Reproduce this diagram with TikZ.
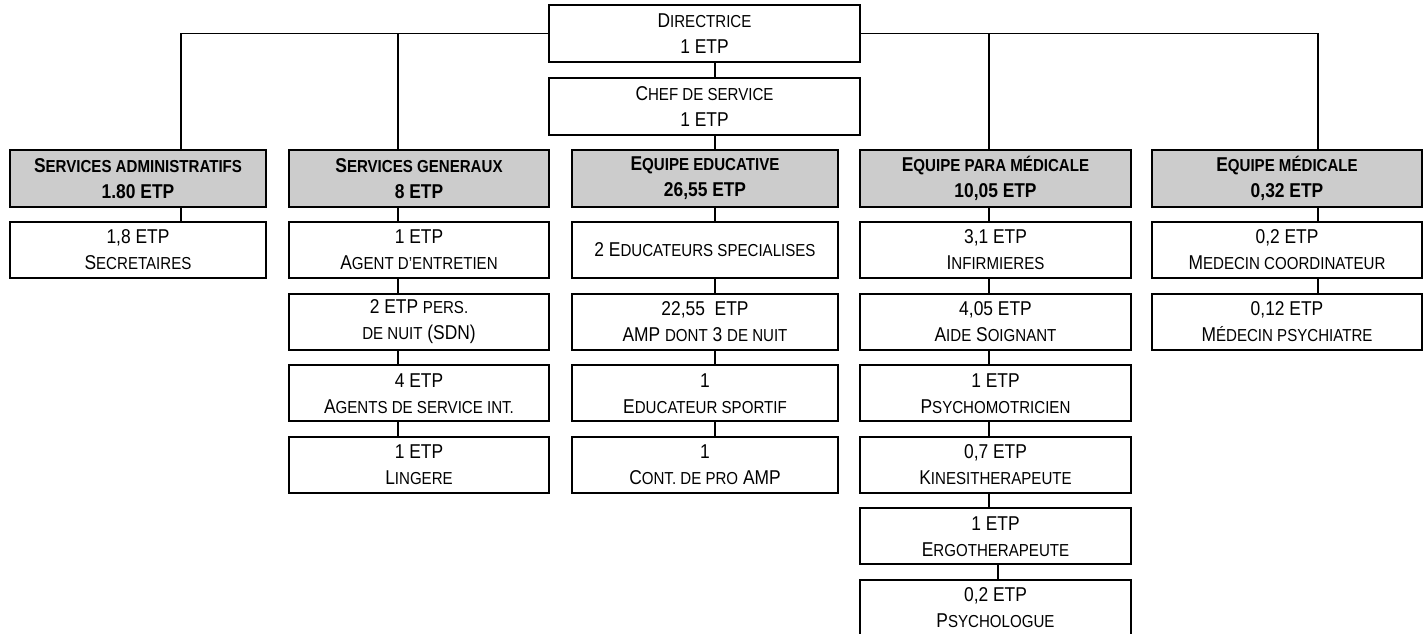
\documentclass[tikz,border=0pt]{standalone}
\usepackage{fontspec}
\setmainfont[FakeStretch=0.87]{Liberation Sans}
\definecolor{entete}{RGB}{204,204,204}
\newcommand\petit[1]{{\fontsize{13}{19.5}\selectfont #1}}

\begin{document}
\begin{tikzpicture}[x = 0.75pt, y = -0.75pt,
    box/.style = {draw, line width = 1.6pt, minimum height = 42pt, inner sep = 0pt, align = center, font = \fontsize{15}{19.5}\selectfont},
    head/.style = {box, fill = entete, minimum height = 42.75pt, font = \fontsize{15}{19.5}\selectfont\bfseries},
    link/.style = {line width = 1.3pt},
    wdir/.style = {minimum width = 233pt},
    wadm/.style = {minimum width = 192pt},
    wgen/.style = {minimum width = 195pt},
    wedu/.style = {minimum width = 199.5pt},
    wpara/.style = {minimum width = 203pt},
    wmed/.style = {minimum width = 202.5pt}]
    \useasboundingbox (0,0) rectangle (1427,633);

    % direction
    \node[box, wdir, minimum height = 42.75pt] (dir) at (704.5,33.5) {D\petit{IRECTRICE}\\1 ETP};
    \node[box, wdir, minimum height = 42.75pt] (chef) at (704.5,106.5) {C\petit{HEF DE SERVICE}\\1 ETP};

    % services
    \node[head, wadm] (admin) at (138,178.5) {S\petit{ERVICES ADMINISTRATIFS}\\1.80 ETP};
    \node[head, wgen] (gen) at (419,178.5) {S\petit{ERVICES GENERAUX}\\8 ETP};
    \node[head, wedu] (edu) at (705,178.5) {E\petit{QUIPE EDUCATIVE}\\26,55 ETP};
    \node[head, wpara] (para) at (995.5,178.5) {E\petit{QUIPE PARA MÉDICALE}\\10,05 ETP};
    \node[head, wmed] (med) at (1287,178.5) {E\petit{QUIPE MÉDICALE}\\0,32 ETP};

    \node[box, wadm] (admin1) at (138,250) {1,8 ETP\\S\petit{ECRETAIRES}};

    \node[box, wgen] (gen1) at (419,250) {1 ETP\\A\petit{GENT D’ENTRETIEN}};
    \node[box, wgen] (gen2) at (419,321.6) {2 ETP \petit{PERS.}\\\petit{DE NUIT} (SDN)};
    \node[box, wgen] (gen3) at (419,393.2) {4 ETP\\A\petit{GENTS DE SERVICE INT.}};
    \node[box, wgen] (gen4) at (419,464.8) {1 ETP\\L\petit{INGERE}};

    \node[box, wedu] (edu1) at (705,250) {2 E\petit{DUCATEURS SPECIALISES}};
    \node[box, wedu] (edu2) at (705,321.6) {22,55\ \ ETP\\AMP \petit{DONT} 3 \petit{DE NUIT}};
    \node[box, wedu] (edu3) at (705,393.2) {1\\E\petit{DUCATEUR SPORTIF}};
    \node[box, wedu] (edu4) at (705,464.8) {1\\C\petit{ONT. DE PRO} AMP};

    \node[box, wpara] (para1) at (995.5,250) {3,1 ETP\\I\petit{NFIRMIERES}};
    \node[box, wpara] (para2) at (995.5,321.6) {4,05 ETP\\A\petit{IDE} S\petit{OIGNANT}};
    \node[box, wpara] (para3) at (995.5,393.2) {1 ETP\\P\petit{SYCHOMOTRICIEN}};
    \node[box, wpara] (para4) at (995.5,464.8) {0,7 ETP\\K\petit{INESITHERAPEUTE}};
    \node[box, wpara] (para5) at (995.5,536.4) {1 ETP\\E\petit{RGOTHERAPEUTE}};
    \node[box, wpara] (para6) at (995.5,608) {0,2 ETP\\P\petit{SYCHOLOGUE}};

    \node[box, wmed] (med1) at (1287,250) {0,2 ETP\\M\petit{EDECIN COORDINATEUR}};
    \node[box, wmed] (med2) at (1287,321.6) {0,12 ETP\\M\petit{ÉDECIN PSYCHIATRE}};

    % branch columns
    \coordinate (kadm) at (181,0);
    \coordinate (kgen) at (398,0);
    \coordinate (kedu) at (715,0);
    \coordinate (kpara) at (989,0);
    \coordinate (kpsy) at (998,0);
    \coordinate (kmed) at (1318,0);

    \draw[link]
    (dir.west) -| (admin.north -| kadm)
    (kgen |- dir.west) -- (gen.north -| kgen)
    (dir.east) -| (med.north -| kmed)
    (kpara |- dir.east) -- (para.north -| kpara);
    \draw[link]
    (dir.south -| kedu) -- (chef.north -| kedu)
    (chef.south -| kedu) -- (edu.north -| kedu);
    \draw[link]
    (admin.south -| kadm) -- (admin1.north -| kadm);
    \draw[link]
    (gen.south -| kgen) -- (gen1.north -| kgen)
    (gen1.south -| kgen) -- (gen2.north -| kgen)
    (gen2.south -| kgen) -- (gen3.north -| kgen)
    (gen3.south -| kgen) -- (gen4.north -| kgen);
    \draw[link]
    (edu.south -| kedu) -- (edu1.north -| kedu)
    (edu1.south -| kedu) -- (edu2.north -| kedu)
    (edu2.south -| kedu) -- (edu3.north -| kedu)
    (edu3.south -| kedu) -- (edu4.north -| kedu);
    \draw[link]
    (para.south -| kpara) -- (para1.north -| kpara)
    (para1.south -| kpara) -- (para2.north -| kpara)
    (para2.south -| kpara) -- (para3.north -| kpara)
    (para3.south -| kpara) -- (para4.north -| kpara)
    (para4.south -| kpara) -- (para5.north -| kpara)
    (para5.south -| kpsy) -- (para6.north -| kpsy);
    \draw[link]
    (med.south -| kmed) -- (med1.north -| kmed)
    (med1.south -| kmed) -- (med2.north -| kmed);
\end{tikzpicture}
\end{document}
